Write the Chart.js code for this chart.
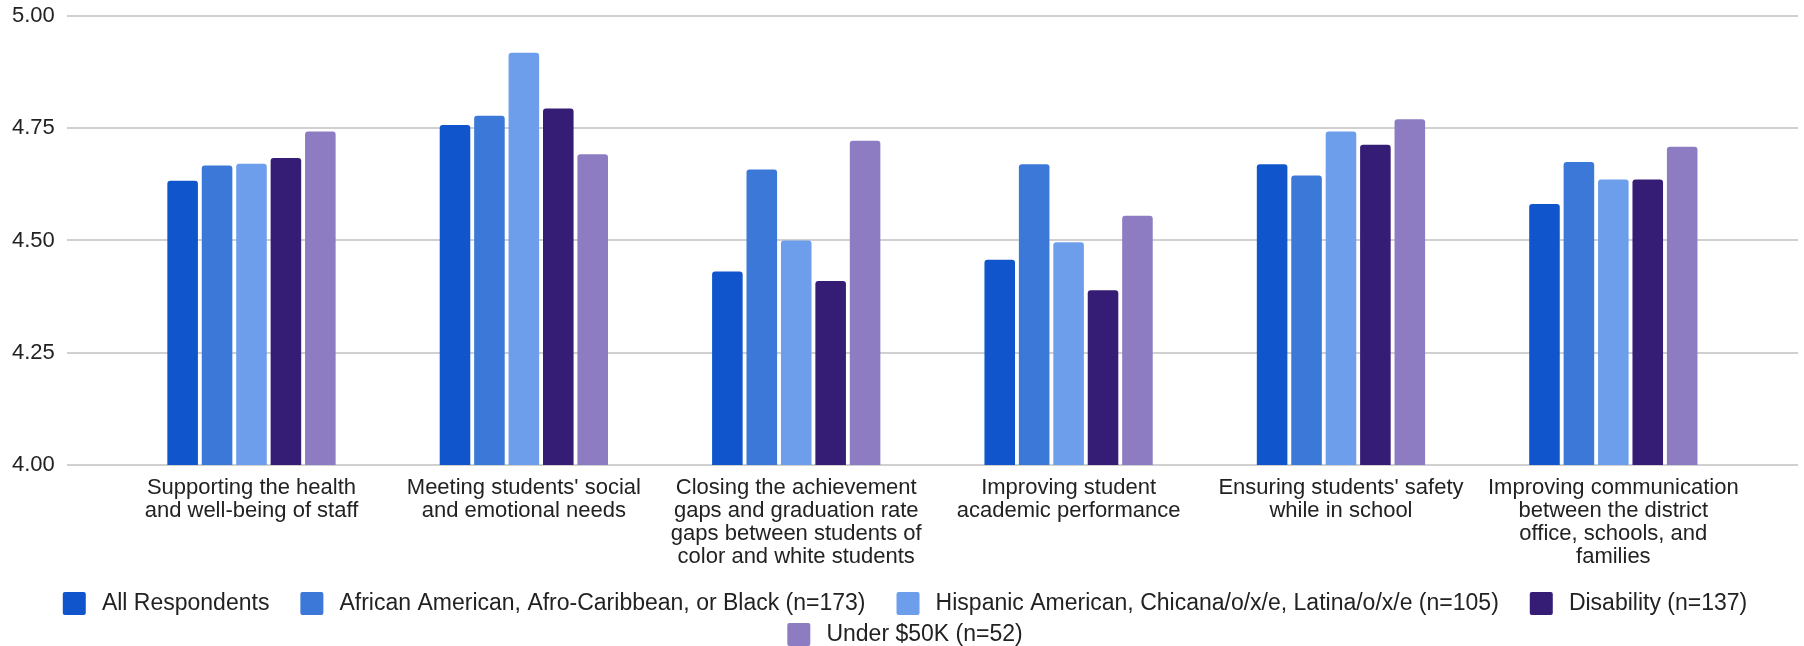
<!DOCTYPE html>
<html>
<head>
<meta charset="utf-8">
<title>Priority ratings by respondent group</title>
<script src="https://cdn.jsdelivr.net/npm/chart.js@4.4.1/dist/chart.umd.min.js"></script>
<style>
  html, body { margin: 0; padding: 0; background: #ffffff; }
  #wrap { position: relative; width: 1804px; height: 646px; }
</style>
</head>
<body>
<div id="wrap"><canvas id="chart"></canvas></div>
<script>
// ---- data ----
const categories = [
  ["Supporting the health", "and well-being of staff"],
  ["Meeting students' social", "and emotional needs"],
  ["Closing the achievement", "gaps and graduation rate", "gaps between students of", "color and white students"],
  ["Improving student", "academic performance"],
  ["Ensuring students' safety", "while in school"],
  ["Improving communication", "between the district", "office, schools, and", "families"]
];

const seriesNames = [
  "All Respondents",
  "African American, Afro-Caribbean, or Black (n=173)",
  "Hispanic American, Chicana/o/x/e, Latina/o/x/e (n=105)",
  "Disability (n=137)",
  "Under $50K (n=52)"
];

const allRespondents   = [4.633, 4.757, 4.431, 4.457, 4.670, 4.581];
const africanAmerican  = [4.667, 4.778, 4.658, 4.670, 4.645, 4.675];
const hispanicAmerican = [4.671, 4.918, 4.500, 4.496, 4.743, 4.636];
const disability       = [4.684, 4.794, 4.410, 4.389, 4.713, 4.636];
const under50k         = [4.743, 4.692, 4.722, 4.555, 4.770, 4.709];

const seriesColors = ["#1155cc", "#3c78d8", "#6d9eeb", "#351c75", "#8e7cc3"];

const yTickValues = [4.00, 4.25, 4.50, 4.75, 5.00];

// ---- category axis with extra room before the first and after the last group ----
class InsetCategoryScale extends Chart.CategoryScale {
  buildTicks() {
    const ticks = super.buildTicks();
    const inset = this.options.inset || 0;
    this._startValue -= inset;
    this._valueRange += 2 * inset;
    return ticks;
  }
}
InsetCategoryScale.id = 'insetCategory';
InsetCategoryScale.defaults = Chart.CategoryScale.defaults;
Chart.register(InsetCategoryScale);

// moves the legend sideways so its rows sit centred on the visible items
const legendNudge = {
  id: 'legendNudge',
  afterLayout(chart, args, opts) {
    const lg = chart.legend;
    if (lg && opts.dx) { lg.left += opts.dx; lg.right += opts.dx; }
  }
};

Chart.defaults.font.family = '"Liberation Sans", Arial, Helvetica, sans-serif';
Chart.defaults.color = '#222222';

const seriesValues = [allRespondents, africanAmerican, hispanicAmerican, disability, under50k];

const datasets = seriesNames.map((name, i) => ({
  label: name,
  data: seriesValues[i],
  backgroundColor: seriesColors[i],
  borderColor: seriesColors[i],
  borderWidth: 0,
  borderRadius: 3,
  categoryPercentage: 0.632,
  barPercentage: 0.888
}));

new Chart(document.getElementById('chart'), {
  type: 'bar',
  data: { labels: categories, datasets },
  plugins: [legendNudge],
  options: {
    responsive: true,
    maintainAspectRatio: false,
    devicePixelRatio: 1,
    animation: false,
    layout: { padding: { top: 16, left: 0, right: 6, bottom: -10 } },
    scales: {
      x: {
        type: 'insetCategory',
        inset: 0.178,
        grid: { display: false, drawTicks: false },
        border: { display: false },
        ticks: {
          autoSkip: false,
          maxRotation: 0,
          minRotation: 0,
          padding: 12,
          color: '#222222',
          font: { size: 22, lineHeight: 1.04 }
        },
        afterFit(scale) { scale.height += 3.5; }
      },
      y: {
        min: yTickValues[0],
        max: yTickValues[yTickValues.length - 1],
        grid: { color: '#d0d0d0', lineWidth: 2, drawTicks: false },
        border: { display: false },
        ticks: {
          stepSize: 0.25,
          padding: 12,
          color: '#222222',
          font: { size: 22, lineHeight: 0.3 },
          callback: v => Number(v).toFixed(2)
        },
        afterBuildTicks(scale) { scale.ticks = yTickValues.map(v => ({ value: v })); }
      }
    },
    plugins: {
      legendNudge: { dx: 17.5 },
      tooltip: { enabled: false },
      legend: {
        position: 'bottom',
        align: 'center',
        labels: {
          boxWidth: 23,
          boxHeight: 23,
          padding: 8,
          color: '#222222',
          font: { size: 23 },
          useBorderRadius: true,
          borderRadius: 2,
          generateLabels(chart) {
            const items = Chart.defaults.plugins.legend.labels.generateLabels(chart);
            items.forEach(it => { it.text = '\u2009' + it.text + '\u2002\u2002'; it.lineWidth = 0; });
            return items;
          }
        }
      }
    }
  }
});
</script>
</body>
</html>
